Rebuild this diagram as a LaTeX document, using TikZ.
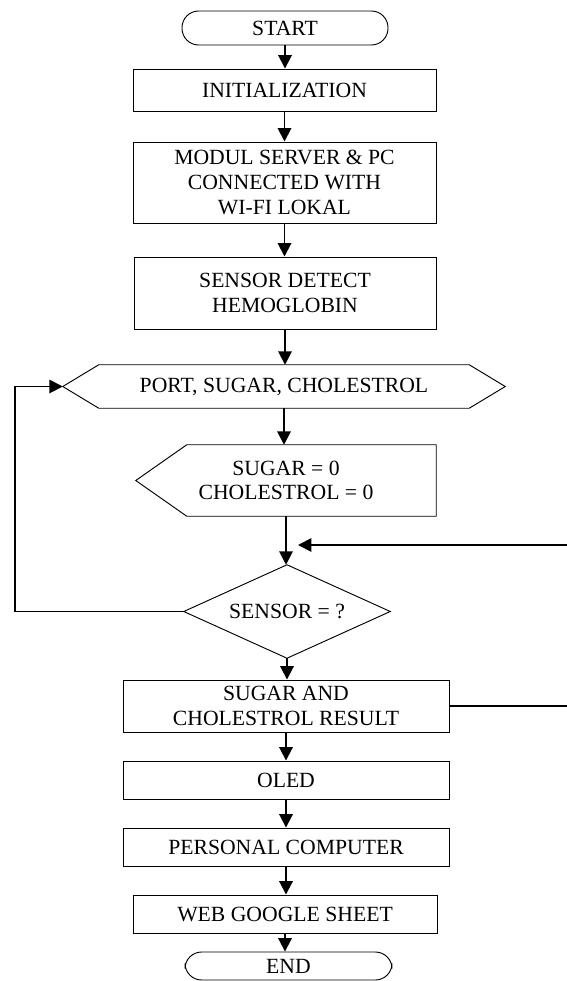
\documentclass[tikz,border=0pt]{standalone}
\usepackage{fontspec}
\setmainfont{Liberation Serif}
\usepackage{tikz}
\usetikzlibrary{arrows.meta,calc}

\begin{document}
\begin{tikzpicture}
	[
	x=0.03cm, y=-0.03cm,
	align=center,
	font=\fontsize{18.5}{21}\selectfont,
	box/.style={rectangle, draw, line width=0.8pt, inner sep=0pt},
	term/.style={box, rounded corners=0.5cm},
	shp/.style={rectangle, inner sep=0pt},
	arr/.style={line width=1.6pt, -{Triangle[length=0.4cm,width=0.4cm]}},
	lin/.style={line width=1.6pt},
	]
		\useasboundingbox (0,0) rectangle (567,981);
		
		% top part
		\node[term, minimum width=6.18cm, minimum height=1.02cm] (start) at ( 285.0,  28.0 ) {START};
		\node[box, minimum width=9.09cm, minimum height=1.26cm] (init) at ( 284.5,  90.0 ) {INITIALIZATION};
		\node[box, minimum width=9.09cm, minimum height=2.43cm] (wifi) at ( 284.5, 182.5 ) {MODUL SERVER \& PC\\CONNECTED WITH\\WI-FI LOKAL};
		\node[box, minimum width=9.06cm, minimum height=2.16cm] (hb) at ( 285.0, 293.0 ) {SENSOR DETECT\\HEMOGLOBIN};
		
		% input and preparation
		\node[shp, minimum width=13.26cm, minimum height=1.29cm] (port) at ( 284.0, 386.5 ) {PORT, SUGAR, CHOLESTROL};
		\node[shp, minimum width=9.0cm, minimum height=2.13cm] (zero) at ( 286.0, 480.5 ) {SUGAR = 0\\CHOLESTROL = 0};
		\draw[line width=0.8pt] ($(port.north west)+(36,0)$) -- ($(port.north east)+(-36,0)$) -- (port.east)
			-- ($(port.south east)+(-36,0)$) -- ($(port.south west)+(36,0)$) -- (port.west) -- cycle;
		\draw[line width=0.8pt] ($(zero.north west)+(51,0)$) -- (zero.north east) -- (zero.south east)
			-- ($(zero.south west)+(51,0)$) -- (zero.west) -- cycle;
		
		% decision
		\node[shp, minimum width=6.18cm, minimum height=2.79cm] (sens) at ( 287.0, 611.5 ) {SENSOR = ?};
		\draw[line width=0.8pt] (sens.north) -- (sens.east) -- (sens.south) -- (sens.west) -- cycle;
		
		% bottom part
		\node[box, minimum width=9.78cm, minimum height=1.56cm] (res) at ( 286.0, 706.0 ) {SUGAR AND\\CHOLESTROL RESULT};
		\node[box, minimum width=9.78cm, minimum height=1.14cm] (oled) at ( 286.0, 780.0 ) {OLED};
		\node[box, minimum width=9.78cm, minimum height=1.14cm] (pc) at ( 286.0, 847.0 ) {PERSONAL COMPUTER};
		\node[box, minimum width=9.12cm, minimum height=1.14cm] (web) at ( 285.0, 914.0 ) {WEB GOOGLE SHEET};
		\node[term, minimum width=6.21cm, minimum height=0.84cm] (end) at ( 288.5, 966.0 ) {END};
		
		% loop ends
		\coordinate (lft) at ( 15.0, 611.5 );
		\coordinate (rgtA) at ( 567.0, 706.0 );
		\coordinate (rgtB) at ( 567.0, 545.0 );
		\coordinate (tip) at ( 298.0, 545.0 );
		
		\foreach \from/\to in {start/init,init/wifi,wifi/hb,hb/port,port/zero,zero/sens,sens/res,res/oled,oled/pc,pc/web,web/end}
			\draw[arr] (\from.south) -- (\from.south |- \to.north);
		\draw[arr] (sens.west) -- (lft) |- (port.west);
		\draw[lin] (res.east) -- (rgtA);
		\draw[arr] (rgtB) -- (tip);
		
	\end{tikzpicture}
\end{document}
